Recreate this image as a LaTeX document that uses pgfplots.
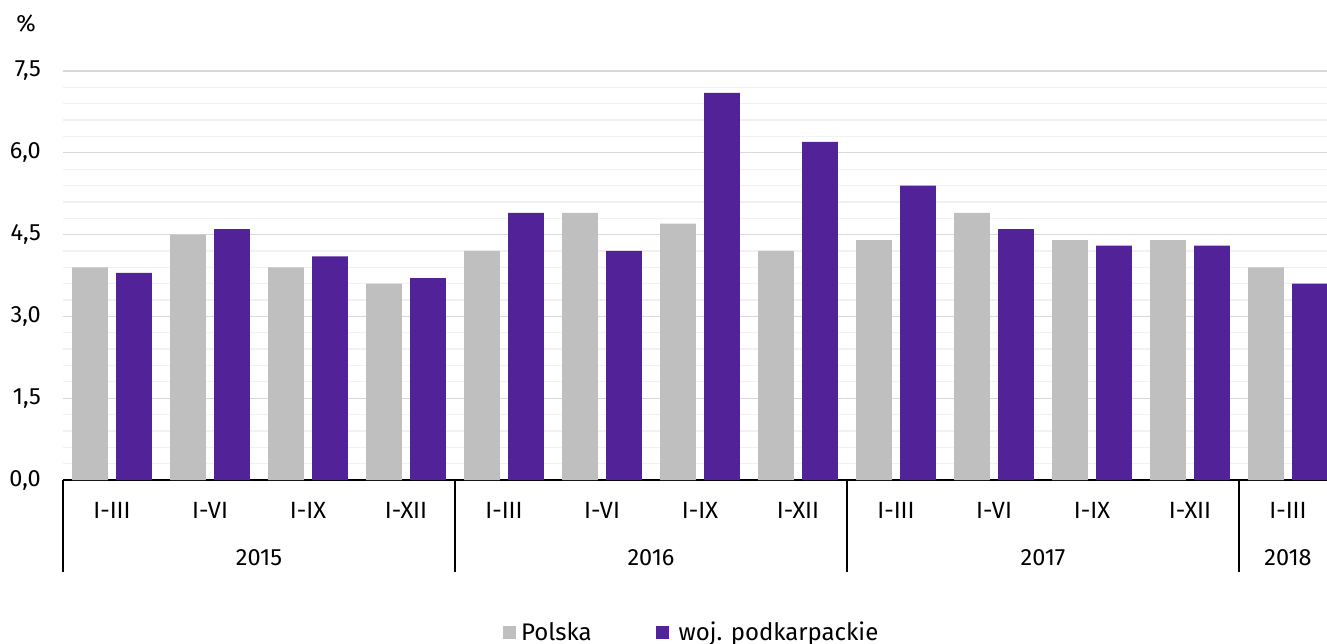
\documentclass[border=0pt]{standalone}
\usepackage{fontspec}
\setmainfont{Fira Sans}
\usepackage{pgfplots}
\pgfplotsset{compat=1.18}
\definecolor{polgray}{RGB}{191,191,191}
\definecolor{podk}{RGB}{82,35,152}
\definecolor{majgrid}{RGB}{217,217,217}
\definecolor{mingrid}{RGB}{241,241,241}
\begin{document}
\begin{tikzpicture}
\useasboundingbox (0,0) rectangle (1327pt,-644pt);
\begin{axis}[
  at={(63pt,-480pt)}, anchor=south west,
  scale only axis, width=1274pt, height=409pt,
  clip=false,
  xmin=-0.5, xmax=12.5, ymin=0, ymax=7.5,
  ytick={0,1.5,3,4.5,6,7.5}, minor y tick num=4,
  ymajorgrids, yminorgrids,
  major grid style={majgrid, line width=1.3pt},
  minor grid style={mingrid, line width=1.3pt},
  axis x line*=bottom, axis y line*=left,
  y axis line style={draw=none},
  x axis line style={black, line width=1.5pt},
  major tick length=0pt, minor tick length=0pt,
  xtick={0,...,12},
  xticklabels={I-III,I-VI,I-IX,I-XII,I-III,I-VI,I-IX,I-XII,I-III,I-VI,I-IX,I-XII,I-III},
  xticklabel style={anchor=base, yshift=-38pt},
  yticklabel style={anchor=east, inner sep=0pt, xshift=-22pt},
  tick label style={font=\fontsize{23.5}{28}\selectfont},
  /pgf/number format/.cd, fixed, fixed zerofill, precision=1, use comma, assume math mode=true, /pgfplots/.cd,
  legend style={at={(0.4935,-0.372)}, anchor=center, draw=none, fill=none,
    legend columns=2, font=\fontsize{24}{28}\selectfont,
    /tikz/every even column/.append style={column sep=62pt}},
]
\addplot[ybar, bar width=0.367, bar shift=-0.2245, fill=polgray, draw=none,
  legend image code/.code={\fill[polgray] (0pt,-6.5pt) rectangle (13pt,6.5pt);}]
  coordinates {(0,3.9) (1,4.5) (2,3.9) (3,3.6) (4,4.2) (5,4.9) (6,4.7) (7,4.2) (8,4.4) (9,4.9) (10,4.4) (11,4.4) (12,3.9)};
\addlegendentry{\hspace{3pt}Polska}
\addplot[ybar, bar width=0.367, bar shift=0.2245, fill=podk, draw=none,
  legend image code/.code={\fill[podk] (0pt,-6.5pt) rectangle (13pt,6.5pt);}]
  coordinates {(0,3.8) (1,4.6) (2,4.1) (3,3.7) (4,4.9) (5,4.2) (6,7.1) (7,6.2) (8,5.4) (9,4.6) (10,4.3) (11,4.3) (12,3.6)};
\addlegendentry{\hspace{8pt}woj. podkarpackie}
\foreach \xx in {-0.5,3.5,7.5,11.5} {
  \edef\tmp{\noexpand\draw[black, line width=1.3pt] (axis cs:\xx,0) -- ++(0pt,-92pt);}\tmp
}
\node[anchor=base, font=\fontsize{23.5}{28}\selectfont, yshift=-85pt] at (axis cs:1.5,0) {2015};
\node[anchor=base, font=\fontsize{23.5}{28}\selectfont, yshift=-85pt] at (axis cs:5.5,0) {2016};
\node[anchor=base, font=\fontsize{23.5}{28}\selectfont, yshift=-85pt] at (axis cs:9.5,0) {2017};
\node[anchor=base, font=\fontsize{23.5}{28}\selectfont, yshift=-85pt] at (axis cs:12,0) {2018};
\end{axis}
\node[font=\fontsize{23.5}{28}\selectfont] at (26pt,-24pt) {\%};
\end{tikzpicture}
\end{document}
